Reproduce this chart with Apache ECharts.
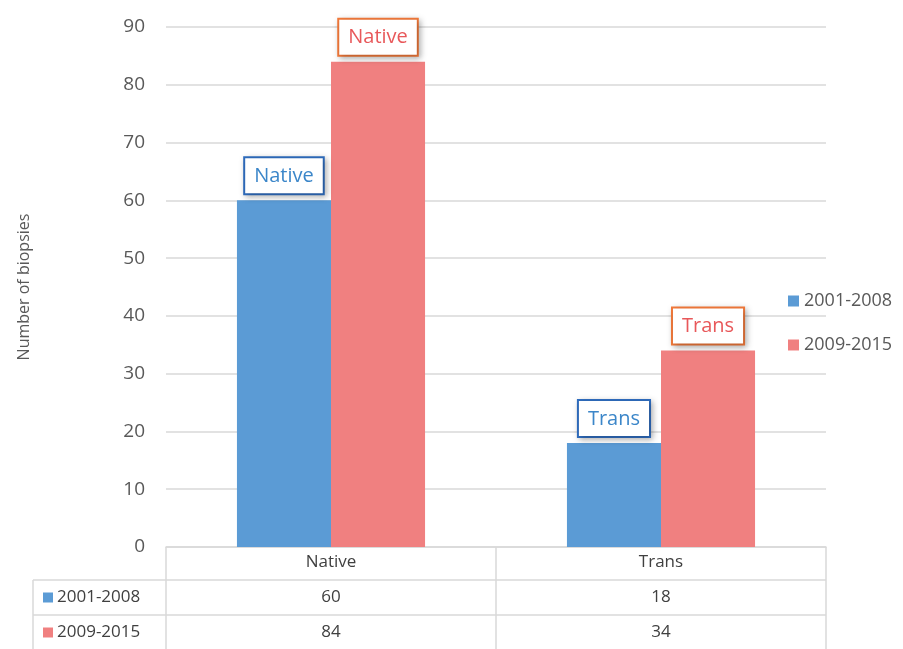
<!DOCTYPE html>
<html>
<head>
<meta charset="utf-8">
<script src="https://cdn.jsdelivr.net/npm/echarts@6/dist/echarts.min.js"></script>
<style>
  html, body { margin: 0; padding: 0; background: #fff; }
  #chart { width: 903px; height: 649px; }
</style>
</head>
<body>
<div id="chart"></div>
<script>
// data
const categories = ['Native', 'Trans']
const seriesNames = ['2001-2008', '2009-2015']
const values2001 = [60, 18]
const values2009 = [84, 34]
const yTicks = [0, 10, 20, 30, 40, 50, 60, 70, 80, 90]

const colors = ['#5b9bd5', '#f08080']
const labelText = ['#3b86c9', '#e8585a']
const labelBorder = ['#2f6dbf', '#f2793a']
const font = 'Open Sans'
const gridLine = '#d9d9d9'
const textColor = '#595959'

const chart = echarts.init(document.getElementById('chart'))

const barLabel = i => ({
  show: true,
  position: 'top',
  distance: 7,
  formatter: '{b}',
  fontFamily: font,
  fontSize: 20,
  color: labelText[i],
  backgroundColor: '#fff',
  borderColor: labelBorder[i],
  borderWidth: 2,
  padding: [8, 9, 7, 9],
  shadowColor: 'rgba(0,0,0,0.25)',
  shadowBlur: 6,
  shadowOffsetX: 2,
  shadowOffsetY: 2
})

chart.setOption({
  animation: false,
  textStyle: { fontFamily: font },
  grid: { left: 166, right: 77, top: 27, bottom: 102 },
  legend: {
    orient: 'vertical',
    left: 783,
    top: 287,
    itemWidth: 11,
    itemHeight: 11,
    itemGap: 26,
    icon: 'rect',
    textStyle: { fontFamily: font, fontSize: 18, color: textColor },
    data: seriesNames
  },
  xAxis: {
    type: 'category',
    data: categories,
    axisLine: { show: true, lineStyle: { color: gridLine, width: 1.5 } },
    axisTick: { show: true, length: 102, interval: 0, lineStyle: { color: gridLine, width: 1.5 } },
    axisLabel: { fontFamily: font, fontSize: 17, color: '#404040', margin: 7 }
  },
  yAxis: {
    type: 'value',
    min: yTicks[0],
    max: yTicks[yTicks.length - 1],
    interval: 10,
    name: 'Number of biopsies',
    nameLocation: 'middle',
    nameGap: 134,
    nameTextStyle: { fontFamily: font, fontSize: 16, color: textColor },
    axisLine: { show: false },
    axisTick: { show: false },
    axisLabel: { fontFamily: font, fontSize: 19, color: textColor, margin: 21 },
    splitLine: { lineStyle: { color: gridLine, width: 1.5 } }
  },
  series: [
    {
      name: seriesNames[0],
      type: 'bar',
      data: values2001,
      barGap: '0%',
      barCategoryGap: '43%',
      itemStyle: { color: colors[0] },
      label: barLabel(0)
    },
    {
      name: seriesNames[1],
      type: 'bar',
      data: values2009,
      itemStyle: { color: colors[1] },
      label: barLabel(1)
    }
  ]
})

// data table under the axis
const drawTable = () => {
  const base = chart.convertToPixel({ yAxisIndex: 0 }, 0)
  const right = chart.convertToPixel({ xAxisIndex: 0 }, categories[1]) + 165
  const tableLeft = 33
  const headH = 33
  const rowH = 35
  const rows = [values2001, values2009]
  const els = []
  const line = (x1, y1, x2, y2) => ({
    type: 'line',
    shape: { x1, y1, x2, y2 },
    style: { stroke: gridLine, lineWidth: 1.5 }
  })
  rows.forEach((vals, r) => {
    const top = base + headH + r * rowH
    els.push(line(tableLeft, top, right, top))
    const cy = top + rowH / 2
    els.push({
      type: 'rect',
      shape: { x: tableLeft + 10, y: cy - 5, width: 10, height: 10 },
      style: { fill: colors[r] }
    })
    els.push({
      type: 'text',
      x: tableLeft + 24,
      y: cy,
      style: { text: seriesNames[r], font: '17px ' + font, fill: '#404040', verticalAlign: 'middle' }
    })
    vals.forEach((v, i) => {
      els.push({
        type: 'text',
        x: chart.convertToPixel({ xAxisIndex: 0 }, categories[i]),
        y: cy,
        style: { text: String(v), font: '17px ' + font, fill: '#404040', align: 'center', verticalAlign: 'middle' }
      })
    })
  })
  els.push(line(tableLeft, base + headH, tableLeft, base + headH + 2 * rowH))
  chart.setOption({ graphic: els })
}
drawTable()
</script>
</body>
</html>
